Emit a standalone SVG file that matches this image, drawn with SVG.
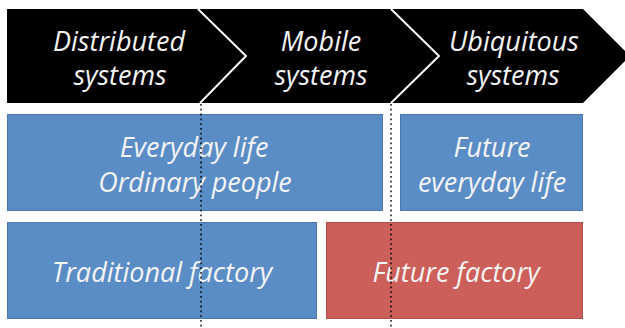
<svg xmlns="http://www.w3.org/2000/svg" width="625" height="328" viewBox="0 0 625 328">
<style>
.chev{fill:#000;}
.seam{fill:none;stroke:#fff;stroke-width:2;stroke-linejoin:miter;}
.blue{fill:#5a8dc6;stroke:#4a78ad;stroke-width:1;}
.red{fill:#cd5f5a;stroke:#b04b47;stroke-width:1;}
text{font-family:"Open Sans","Noto Sans","DejaVu Sans",sans-serif;font-style:italic;font-size:27px;fill:#f4f4f4;text-anchor:middle;}
.dots{fill:none;stroke:#000;stroke-opacity:0.7;stroke-width:2;stroke-dasharray:1.8 3;}
</style>
<rect width="625" height="328" fill="#fff"/>
<g id="distributed-systems">
<polygon class="chev" points="7,9 199,9 247,56 200,103 7,103"/>
<text x="119" y="51">Distributed</text>
<text x="120" y="85">systems</text>
</g>
<g id="mobile-systems">
<polygon class="chev" points="197,9 391,9 439,56 391,103 199,103 246,56"/>
<text x="321" y="51">Mobile</text>
<text x="321" y="85">systems</text>
</g>
<g id="ubiquitous-systems">
<polygon class="chev" points="389,9 583,9 630,56 583,103 389,103 438,56"/>
<text x="514" y="51">Ubiquitous</text>
<text x="513" y="85">systems</text>
</g>
<g id="seams">
<polyline class="seam" points="198,9 246,56 200,103"/>
<polyline class="seam" points="391,9 439,56 391,103"/>
</g>
<g id="everyday-life">
<rect class="blue" x="7.5" y="114.5" width="375" height="96"/>
<text x="194" y="157">Everyday life</text>
<text x="195" y="192">Ordinary people</text>
</g>
<g id="future-everyday-life">
<rect class="blue" x="400.5" y="114.5" width="182" height="96"/>
<text x="492" y="157">Future</text>
<text x="492" y="192">everyday life</text>
</g>
<g id="traditional-factory">
<rect class="blue" x="7.5" y="222.5" width="309" height="96"/>
<text x="162" y="282">Traditional factory</text>
</g>
<g id="future-factory">
<rect class="red" x="326.5" y="222.5" width="256" height="96"/>
<text x="456" y="282">Future factory</text>
</g>
<g id="connectors">
<line class="dots" x1="201" y1="104" x2="201" y2="328"/>
<line class="dots" x1="391" y1="104" x2="391" y2="328"/>
</g>
</svg>
